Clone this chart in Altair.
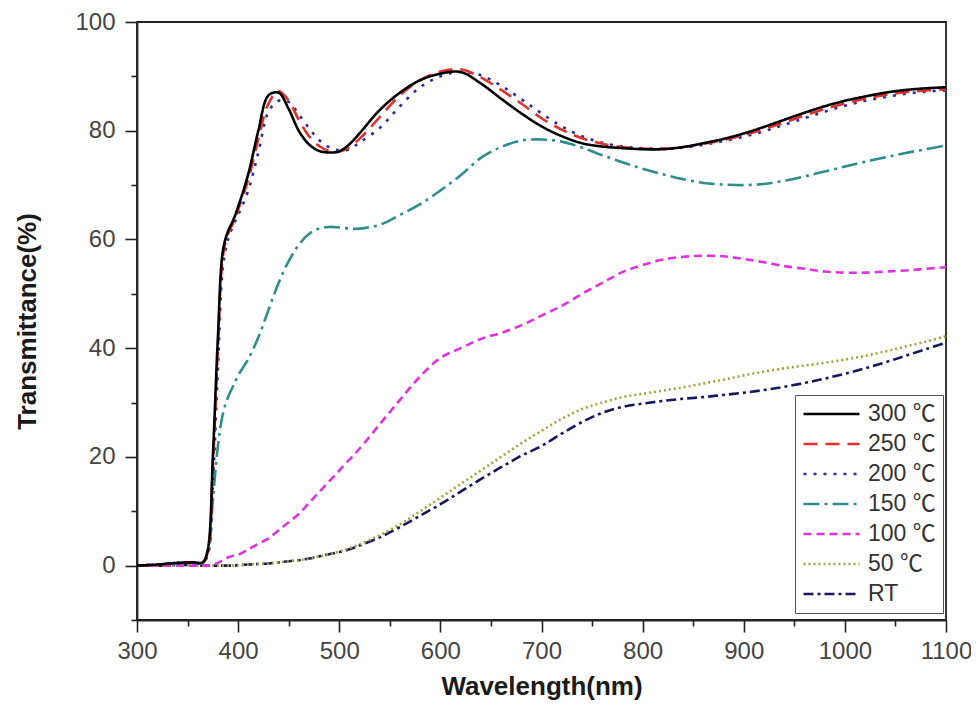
import altair as alt
import pandas as pd

# ---------------- data ----------------
wavelength = [300, 320, 340, 355, 365, 370, 375, 380, 385, 390, 395, 400,
              410, 420, 430, 440, 450, 460, 470, 480, 490, 500, 510, 520,
              540, 560, 580, 600, 620, 640, 660, 680, 700, 720, 740, 760,
              780, 800, 820, 840, 860, 880, 900, 920, 940, 960, 980, 1000,
              1020, 1040, 1060, 1080, 1100]

t300 = [0, 0.2, 0.5, 0.6, 0.6, 3, 20, 42, 58, 61.5, 63.5, 66,
        72, 80, 86.5, 87, 84, 80, 77.5, 76.3, 76, 76.2, 77.5, 79.5,
        83.8, 87, 89.3, 90.5, 90.8, 88.7, 85.9, 83.2, 80.8, 79, 77.7, 77.1,
        76.8, 76.6, 76.6, 77, 77.7, 78.5, 79.5, 80.7, 82, 83.3, 84.5, 85.5,
        86.3, 87, 87.5, 87.8, 88]

t250 = [0, 0.2, 0.5, 0.6, 0.6, 2.5, 18, 40, 57, 61, 63, 65.5,
        71, 78.5, 85, 87.3, 85.5, 82, 79, 77.2, 76.3, 76.2, 77, 78.5,
        82.5, 86.5, 89.3, 90.9, 91.3, 89.8, 87.5, 85, 82.3, 80.2, 78.6, 77.6,
        77, 76.7, 76.7, 77, 77.6, 78.3, 79.2, 80.3, 81.5, 82.8, 84, 85,
        85.9, 86.6, 87.1, 87.4, 87.6]

t200 = [0, 0.2, 0.5, 0.6, 0.6, 2, 15, 36, 55, 60, 62.5, 64.5,
        69, 76, 83.5, 85.5, 85.3, 83, 80.5, 78.3, 77, 76.4, 76.6, 77.8,
        80.5, 84.5, 88, 90, 90.8, 90.2, 88.3, 85.8, 83.2, 80.8, 79, 77.8,
        77.1, 76.8, 76.7, 76.9, 77.4, 78.1, 78.9, 79.9, 81.1, 82.3, 83.5, 84.6,
        85.5, 86.2, 86.8, 87.2, 87.4]

t150 = [0, 0.2, 0.4, 0.5, 0.5, 2, 12, 22, 28, 31, 33, 35,
        38, 42, 47, 52, 56, 59, 61, 62, 62.3, 62.2, 62, 62,
        62.7, 64.5, 66.5, 69, 71.8, 75, 77, 78.2, 78.4, 78, 76.9, 75.5,
        74.2, 73, 72, 71.1, 70.4, 70.1, 70, 70.2, 70.8, 71.6, 72.5, 73.4,
        74.3, 75.1, 75.9, 76.6, 77.3]

t100 = [0, 0, 0, 0, 0, 0, 0.2, 0.5, 1, 1.5, 1.8, 2,
        3, 4, 5, 6.5, 8, 9.5, 11.5, 13.5, 15.5, 17.5, 19.5, 21.5,
        26, 30.5, 34.8, 38.2, 40, 41.7, 42.8, 44.2, 46, 47.8, 50, 52,
        54, 55.3, 56.3, 56.8, 57, 56.9, 56.4, 55.8, 55.1, 54.6, 54.1, 53.9,
        53.9, 54.1, 54.3, 54.6, 54.9]

t50 = [0, 0, 0.1, 0.1, 0, 0, 0, 0, 0, 0, 0, 0.1,
       0.2, 0.3, 0.4, 0.6, 0.8, 1, 1.3, 1.7, 2.1, 2.6, 3.2, 3.9,
       5.6, 7.6, 10, 12.5, 15, 17.5, 20, 22.5, 24.8, 27, 28.8, 30,
       31, 31.6, 32.2, 32.8, 33.5, 34.2, 35, 35.7, 36.3, 36.8, 37.3, 37.9,
       38.6, 39.4, 40.3, 41.2, 42.2]

tRT = [0, 0, 0.1, 0.1, 0, 0, 0, 0, 0, 0, 0, 0.1,
       0.2, 0.3, 0.4, 0.6, 0.8, 1, 1.3, 1.7, 2.1, 2.5, 3.0, 3.7,
       5.2, 7.1, 9.2, 11.3, 13.6, 15.9, 18.1, 20.2, 22, 24.3, 26.4, 28.1,
       29.2, 29.8, 30.3, 30.7, 31, 31.4, 31.8, 32.3, 32.9, 33.6, 34.4, 35.3,
       36.3, 37.4, 38.6, 39.8, 41]

series_names = ["300 ℃", "250 ℃", "200 ℃", "150 ℃", "100 ℃", "50 ℃", "RT"]
series_values = [t300, t250, t200, t150, t100, t50, tRT]
series_colors = ["#000000", "#e2312c", "#2b2ba8", "#2f8d8a", "#e033df", "#a3a33a", "#17175e"]
series_dashes = [[1, 0], [14, 8], [3, 7], [16, 5, 3, 5], [8, 5], [2, 3], [10, 4, 3, 4]]

x_ticks = list(range(300, 1101, 50))
y_ticks = list(range(-10, 101, 10))

# long table, drawn so that the 300 ℃ curve ends on top
rows = []
for name, vals in reversed(list(zip(series_names, series_values))):
    for w, t in zip(wavelength, vals):
        rows.append({"wl": w, "T": t, "series": name})
df = pd.DataFrame(rows)

FONT = "Liberation Sans, Arial, Noto Sans CJK SC, sans-serif"

legend = alt.Legend(
    title=None, orient="none", legendX=658, legendY=373,
    symbolType="stroke", symbolSize=3136, symbolStrokeWidth=2.5,
    labelFont=FONT, labelFontSize=23, labelColor="#333333",
    labelOffset=7, rowPadding=6, clipHeight=24,
    strokeColor="#555555", fillColor="white", padding=7,
)

chart = alt.Chart(df).mark_line(strokeWidth=2.6, interpolate="catmull-rom").encode(
    x=alt.X("wl:Q", title="Wavelength(nm)",
            scale=alt.Scale(domain=[300, 1100], nice=False, zero=False),
            axis=alt.Axis(values=x_ticks, format="d",
                          labelExpr="datum.value % 100 === 0 ? datum.label : ''",
                          tickSize={"condition": {"test": "datum.value % 100 === 0", "value": 12}, "value": 6},
                          labelPadding=7, labelFlush=False, labelOverlap=False,
                          titleY=66, titleBaseline="middle")),
    y=alt.Y("T:Q", title="Transmittance(%)",
            scale=alt.Scale(domain=[-10, 100], nice=False, zero=False),
            axis=alt.Axis(values=y_ticks, format="d",
                          labelExpr="datum.value % 20 === 0 ? datum.label : ''",
                          tickSize={"condition": {"test": "datum.value % 20 === 0", "value": 12}, "value": 6},
                          labelPadding=10, labelOverlap=False, labelFlush=False,
                          titleX=-110, titleY=299, titleAngle=270,
                          titleAlign="center", titleBaseline="middle")),
    color=alt.Color("series:N", sort=series_names,
                    scale=alt.Scale(domain=series_names, range=series_colors),
                    legend=legend),
    strokeDash=alt.StrokeDash("series:N", sort=series_names,
                              scale=alt.Scale(domain=series_names, range=series_dashes),
                              legend=legend),
).properties(
    width=809, height=598,
    autosize=alt.AutoSizeParams(type="none"),
    padding={"left": 129, "top": 14, "right": 25, "bottom": 89},
).configure_axis(
    grid=False,
    domainColor="#222222", domainWidth=1.8,
    tickColor="#222222", tickWidth=1.6,
    labelFont=FONT, labelFontSize=24, labelColor="#444444",
    titleFont=FONT, titleFontSize=26, titleFontWeight="bold", titleColor="#1a1a1a",
).configure_view(
    stroke="#222222", strokeWidth=1.8,
)

chart.save("out.html", embed_options={"renderer": "svg", "actions": False})
